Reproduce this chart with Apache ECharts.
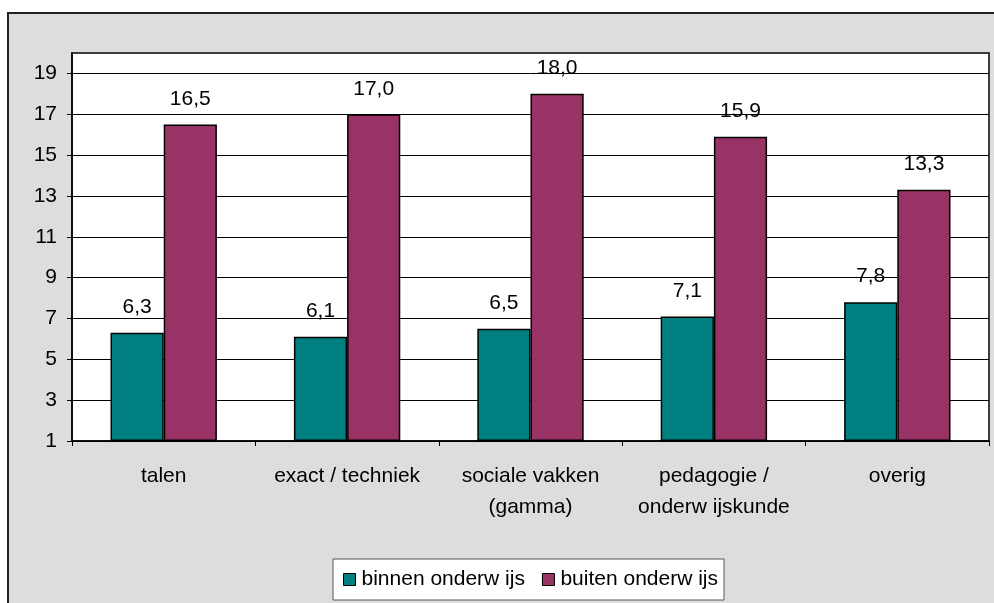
<!DOCTYPE html>
<html>
<head>
<meta charset="utf-8">
<script src="https://cdn.jsdelivr.net/npm/echarts@6/dist/echarts.min.js"></script>
<style>
  html, body { margin: 0; padding: 0; background: #fff; overflow: hidden; }
  .frame {
    position: absolute; left: 7px; top: 12px; width: 1000px; height: 600px;
    background: #dddddd; border-left: 2px solid #222; border-top: 2px solid #222;
  }
  #chart { position: absolute; left: 0; top: 0; width: 994px; height: 603px; }
</style>
</head>
<body>
<div class="frame"></div>
<div id="chart"></div>
<script>
const categories = ['talen', 'exact / techniek', 'sociale vakken\n(gamma)', 'pedagogie /\nonderw ijskunde', 'overig']
const binnen = [6.3, 6.1, 6.5, 7.1, 7.8]
const buiten = [16.5, 17.0, 18.0, 15.9, 13.3]
const seriesNames = ['binnen onderw ijs', 'buiten onderw ijs']
const yTicks = [1, 3, 5, 7, 9, 11, 13, 15, 17, 19]

// axis starts at 1, so values are shifted by the base and labels add it back
const base = 1

const chart = echarts.init(document.getElementById('chart'))

const fmt = (v) => v.toFixed(1).replace('.', ',')
const font = 'Liberation Sans, Arial, sans-serif'

function barSeries(name, values, color) {
  return {
    name: name,
    type: 'bar',
    data: values.map((v) => v - base),
    barGap: '0%',
    barCategoryGap: '42%',
    itemStyle: { color: color, borderColor: '#000', borderWidth: 1.5 },
    label: {
      show: true,
      position: 'top',
      distance: 15,
      color: '#000',
      fontSize: 21,
      fontFamily: font,
      formatter: (p) => fmt(values[p.dataIndex]),
    },
  }
}

const option = {
  animation: false,
  backgroundColor: 'transparent',
  textStyle: { fontFamily: font },
  grid: {
    left: 72,
    right: 5,
    top: 53,
    bottom: 162,
    show: true,
    backgroundColor: '#fff',
    borderColor: '#000',
    borderWidth: 1.5,
  },
  legend: {
    left: 333,
    top: 559,
    padding: [10, 6, 10, 10],
    backgroundColor: '#fff',
    borderColor: '#555',
    borderWidth: 1,
    borderRadius: 0,
    itemWidth: 12,
    itemHeight: 12,
    itemGap: 17,
    icon: 'rect',
    itemStyle: { borderColor: '#000', borderWidth: 1 },
    data: seriesNames,
    textStyle: { color: '#000', fontSize: 21, fontFamily: font, padding: [0, 0, 0, 1] },
  },
  xAxis: {
    type: 'category',
    data: categories,
    axisLine: { lineStyle: { color: '#000', width: 1.5 } },
    axisTick: { show: true, interval: 0, length: 5, lineStyle: { color: '#000' } },
    axisLabel: {
      interval: 0,
      hideOverlap: false,
      color: '#000',
      fontSize: 21,
      fontFamily: font,
      margin: 20,
      lineHeight: 31,
    },
  },
  yAxis: {
    type: 'value',
    min: 0,
    max: 19,
    interval: 2,
    axisLine: { show: true, lineStyle: { color: '#000', width: 1.5 } },
    axisTick: {
      show: true,
      length: 5,
      lineStyle: { color: '#000' },
      customValues: yTicks.map((v) => v - base),
    },
    axisLabel: {
      color: '#000',
      fontSize: 21,
      fontFamily: font,
      margin: 15,
      formatter: (v) => (v === 19 ? '' : String(v + base)),
    },
    splitLine: { show: true, lineStyle: { color: '#000', width: 1 } },
  },
  series: [
    barSeries(seriesNames[0], binnen, '#008080'),
    barSeries(seriesNames[1], buiten, '#993366'),
  ],
}

chart.setOption(option)
window.addEventListener('resize', () => chart.resize())
</script>
</body>
</html>
